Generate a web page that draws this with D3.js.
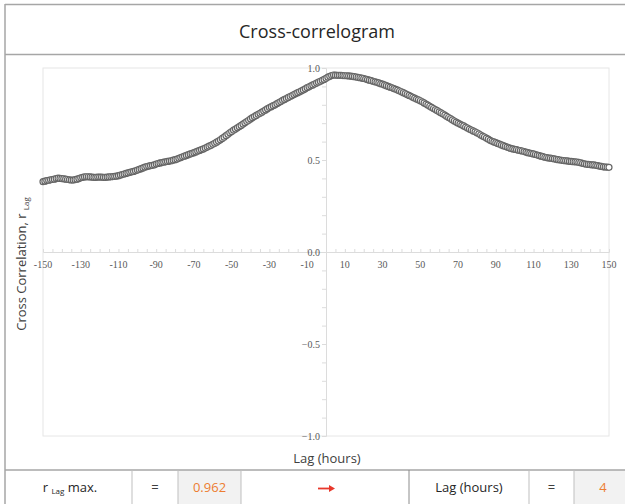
<!DOCTYPE html>
<html lang="en">
<head>
<meta charset="UTF-8">
<script src="https://d3js.org/d3.v7.min.js"></script>
<style>
  html, body { margin: 0; padding: 0; background: #ffffff; }
  body { width: 625px; height: 504px; overflow: hidden; font-family: 'Open Sans', sans-serif; }
</style>
</head>
<body>
<div id="chart"></div>
<script>
// lag range (hours) and tick settings
const lagStart = -150;
const lagEnd = 150;
const xTickLabels = [-150, -130, -110, -90, -70, -50, -30, -10, 10, 30, 50, 70, 90, 110, 130, 150];
const yTickLabels = [-1.0, -0.5, 0.0, 0.5, 1.0];

// cross correlation r_Lag, one value per lag from -150 to 150
const rLag = [
  0.382, 0.385, 0.388, 0.390, 0.392, 0.394, 0.396, 0.399, 0.401, 0.400,
  0.399, 0.398, 0.396, 0.394, 0.392, 0.391, 0.391, 0.393, 0.396, 0.399,
  0.403, 0.406, 0.408, 0.409, 0.409, 0.408, 0.407, 0.406, 0.406, 0.407,
  0.407, 0.407, 0.406, 0.406, 0.407, 0.408, 0.409, 0.410, 0.411, 0.412,
  0.415, 0.418, 0.421, 0.424, 0.427, 0.430, 0.433, 0.436, 0.438, 0.441,
  0.445, 0.449, 0.453, 0.457, 0.461, 0.464, 0.467, 0.469, 0.471, 0.474,
  0.478, 0.481, 0.484, 0.486, 0.488, 0.490, 0.492, 0.494, 0.496, 0.499,
  0.502, 0.505, 0.509, 0.513, 0.517, 0.521, 0.525, 0.529, 0.533, 0.536,
  0.540, 0.544, 0.548, 0.552, 0.556, 0.560, 0.565, 0.570, 0.575, 0.580,
  0.585, 0.591, 0.597, 0.603, 0.610, 0.617, 0.624, 0.632, 0.640, 0.648,
  0.655, 0.662, 0.668, 0.675, 0.681, 0.688, 0.695, 0.702, 0.709, 0.716,
  0.723, 0.730, 0.736, 0.742, 0.748, 0.754, 0.760, 0.766, 0.772, 0.779,
  0.785, 0.790, 0.795, 0.800, 0.806, 0.812, 0.818, 0.824, 0.829, 0.834,
  0.840, 0.845, 0.850, 0.856, 0.861, 0.866, 0.871, 0.876, 0.881, 0.887,
  0.893, 0.898, 0.903, 0.908, 0.913, 0.918, 0.923, 0.928, 0.933, 0.938,
  0.944, 0.950, 0.955, 0.959, 0.962, 0.961, 0.960, 0.960, 0.960, 0.959,
  0.958, 0.958, 0.957, 0.956, 0.955, 0.953, 0.951, 0.949, 0.947, 0.945,
  0.943, 0.940, 0.937, 0.934, 0.931, 0.928, 0.925, 0.922, 0.919, 0.915,
  0.912, 0.908, 0.904, 0.900, 0.896, 0.892, 0.888, 0.884, 0.880, 0.875,
  0.871, 0.866, 0.861, 0.856, 0.851, 0.846, 0.841, 0.836, 0.831, 0.827,
  0.822, 0.816, 0.810, 0.804, 0.798, 0.792, 0.786, 0.780, 0.774, 0.768,
  0.762, 0.756, 0.750, 0.744, 0.737, 0.731, 0.725, 0.718, 0.712, 0.706,
  0.700, 0.695, 0.690, 0.685, 0.679, 0.674, 0.668, 0.663, 0.658, 0.653,
  0.648, 0.642, 0.636, 0.630, 0.625, 0.619, 0.613, 0.607, 0.602, 0.598,
  0.594, 0.590, 0.586, 0.582, 0.578, 0.574, 0.570, 0.566, 0.563, 0.560,
  0.558, 0.556, 0.553, 0.551, 0.549, 0.546, 0.543, 0.540, 0.537, 0.535,
  0.533, 0.530, 0.527, 0.524, 0.521, 0.518, 0.515, 0.513, 0.511, 0.510,
  0.508, 0.506, 0.504, 0.502, 0.500, 0.498, 0.497, 0.496, 0.495, 0.493,
  0.492, 0.491, 0.490, 0.489, 0.487, 0.485, 0.482, 0.479, 0.477, 0.476,
  0.475, 0.474, 0.473, 0.471, 0.469, 0.467, 0.465, 0.463, 0.462, 0.461,
  0.460
];

// summary row
const maxR = "0.962";
const maxLag = "4";

const width = 625, height = 504;
const plot = { left: 43, right: 609, top: 68, bottom: 436 };

const svg = d3.select("#chart").append("svg")
  .attr("width", width)
  .attr("height", height);

const borderColor = "#a6a6a6";
const gridColor = "#dcdcdc";
const labelColor = "#595959";

// outer frame + title box
svg.append("line").attr("x1", 5).attr("x2", width).attr("y1", 4.5).attr("y2", 4.5)
  .attr("stroke", borderColor).attr("stroke-width", 1.5);
svg.append("line").attr("x1", 5).attr("x2", 5).attr("y1", 4).attr("y2", height)
  .attr("stroke", borderColor).attr("stroke-width", 1.5);
svg.append("line").attr("x1", 5).attr("x2", width).attr("y1", 54.5).attr("y2", 54.5)
  .attr("stroke", borderColor).attr("stroke-width", 1.5);

svg.append("text")
  .attr("x", 317).attr("y", 38)
  .attr("text-anchor", "middle")
  .attr("font-size", "18px")
  .attr("fill", "#262626")
  .text("Cross-correlogram");

// scales
const x = d3.scaleLinear().domain([lagStart, lagEnd]).range([plot.left, plot.right]);
const y = d3.scaleLinear().domain([-1, 1]).range([plot.bottom, plot.top]);

// plot area frame
svg.append("rect")
  .attr("x", plot.left).attr("y", plot.top)
  .attr("width", plot.right - plot.left).attr("height", plot.bottom - plot.top)
  .attr("fill", "none").attr("stroke", "#e6e6e6").attr("stroke-width", 1);

// x axis (crosses at r = 0)
const xAxis = d3.axisTop(x)
  .tickValues(d3.range(lagStart, lagEnd + 1, 5))
  .tickSize(3)
  .tickFormat("");
const gx = svg.append("g").attr("transform", `translate(0,${y(0)})`).call(xAxis);
gx.selectAll("path, line").attr("stroke", gridColor);

svg.append("g").selectAll("text")
  .data(xTickLabels)
  .join("text")
  .attr("x", d => x(d))
  .attr("y", y(0) + 16)
  .attr("text-anchor", "middle")
  .attr("font-family", "'Liberation Serif', serif")
  .attr("font-size", "10px")
  .attr("fill", labelColor)
  .text(d => d);

// y axis (crosses at lag 0)
const yAxis = d3.axisLeft(y)
  .tickValues(d3.range(-10, 11).map(d => d / 10))
  .tickSize(4)
  .tickFormat("");
const gy = svg.append("g").attr("transform", `translate(${x(0)},0)`).call(yAxis);
gy.selectAll("path, line").attr("stroke", gridColor);

svg.append("g").selectAll("text")
  .data(yTickLabels)
  .join("text")
  .attr("x", x(0) - 6)
  .attr("y", d => y(d) + 3.5)
  .attr("text-anchor", "end")
  .attr("font-family", "'Liberation Serif', serif")
  .attr("font-size", "10px")
  .attr("fill", labelColor)
  .text(d => d3.format(".1f")(d));

// series
const data = rLag.map((r, i) => ({ lag: lagStart + i, r: r }));

svg.append("path")
  .datum(data)
  .attr("fill", "none")
  .attr("stroke", "#6b6b6b")
  .attr("stroke-width", 1.5)
  .attr("d", d3.line().x(d => x(d.lag)).y(d => y(d.r)));

svg.append("g").selectAll("circle")
  .data(data)
  .join("circle")
  .attr("cx", d => x(d.lag))
  .attr("cy", d => y(d.r))
  .attr("r", 3)
  .attr("fill", "#ffffff")
  .attr("stroke", "#666666")
  .attr("stroke-width", 1.2);

// axis titles
const yTitle = svg.append("text")
  .attr("transform", "translate(26,264) rotate(-90)")
  .attr("text-anchor", "middle")
  .attr("font-size", "13px")
  .attr("fill", "#404040");
yTitle.append("tspan").text("Cross Correlation, r ");
yTitle.append("tspan").attr("font-size", "8px").attr("dy", 3).text("Lag");

svg.append("text")
  .attr("x", 327).attr("y", 463)
  .attr("text-anchor", "middle")
  .attr("font-size", "13px")
  .attr("fill", "#404040")
  .text("Lag (hours)");

// summary table row
const rowTop = 470;
const cells = [
  { x0: 5, x1: 132 },
  { x0: 132, x1: 178 },
  { x0: 178, x1: 241, fill: "#f2f2f2" },
  { x0: 241, x1: 409 },
  { x0: 409, x1: 529 },
  { x0: 529, x1: 574 },
  { x0: 574, x1: 625, fill: "#f2f2f2" }
];
svg.append("g").selectAll("rect")
  .data(cells.filter(c => c.fill))
  .join("rect")
  .attr("x", c => c.x0).attr("y", rowTop)
  .attr("width", c => c.x1 - c.x0).attr("height", height - rowTop)
  .attr("fill", c => c.fill);

svg.append("line").attr("x1", 5).attr("x2", width).attr("y1", rowTop).attr("y2", rowTop)
  .attr("stroke", borderColor).attr("stroke-width", 1.5);
svg.append("g").selectAll("line")
  .data(cells.slice(1))
  .join("line")
  .attr("x1", c => c.x0).attr("x2", c => c.x0)
  .attr("y1", rowTop).attr("y2", height)
  .attr("stroke", (c, i) => i === 3 ? "#8c8c8c" : "#bfbfbf")
  .attr("stroke-width", 1);

const textY = 492;
const rCell = svg.append("text")
  .attr("x", 70).attr("y", textY)
  .attr("text-anchor", "middle")
  .attr("font-size", "13px")
  .attr("fill", "#262626");
rCell.append("tspan").text("r ");
rCell.append("tspan").attr("font-size", "8px").attr("dy", 2).text("Lag");
rCell.append("tspan").attr("dy", -2).text(" max.");

const plainCells = [
  { cx: 155, text: "=", color: "#404040" },
  { cx: 209.5, text: maxR, color: "#ed7d31" },
  { cx: 469, text: "Lag (hours)", color: "#262626" },
  { cx: 551.5, text: "=", color: "#404040" },
  { cx: 603, text: maxLag, color: "#ed7d31" }
];
svg.append("g").selectAll("text")
  .data(plainCells)
  .join("text")
  .attr("x", d => d.cx).attr("y", textY)
  .attr("text-anchor", "middle")
  .attr("font-size", "13px")
  .attr("fill", d => d.color)
  .text(d => d.text);

// red arrow in the middle cell
svg.append("path")
  .attr("d", "M318,488.5 L332,488.5")
  .attr("stroke", "#e8382b")
  .attr("stroke-width", 1.8)
  .attr("fill", "none");
svg.append("path")
  .attr("d", "M329,485 L335,488.5 L329,492 Z")
  .attr("fill", "#e8382b");
</script>
</body>
</html>
